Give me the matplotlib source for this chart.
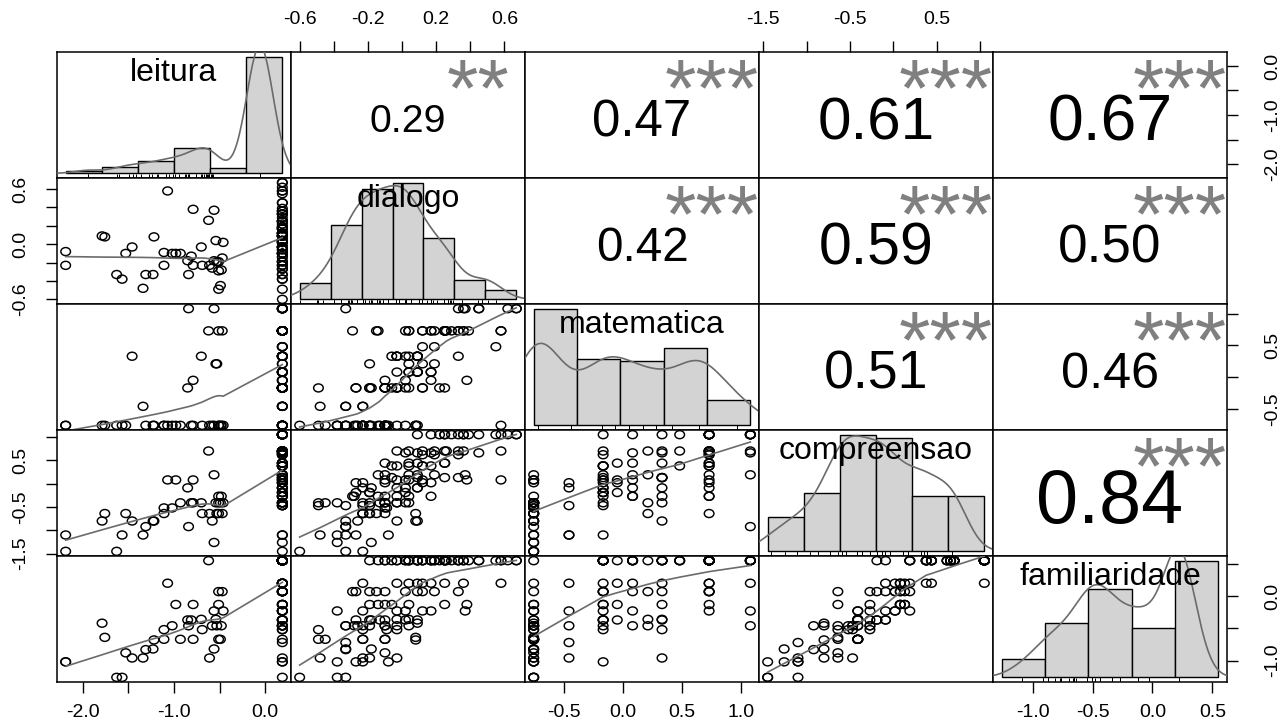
"""
Correlation matrix chart (pairs-style): scatter + lowess below the diagonal,
histogram + density on the diagonal, correlation values above.
"""

import numpy as np
import matplotlib
matplotlib.use("Agg")
import matplotlib.pyplot as plt
from matplotlib.path import Path
from matplotlib.transforms import ScaledTranslation, blended_transform_factory

plt.rcParams['font.family'] = ['Liberation Sans', 'DejaVu Sans']

# ---------------------------------------------------------------------------
# Data (one entry per student)
# ---------------------------------------------------------------------------
NAMES = ['leitura', 'dialogo', 'matematica', 'compreensao', 'familiaridade']

# 39 students below the ceiling, then 87 students at the ceiling (0.19)
LEITURA = [-2.19, -2.19, -1.79, -1.76, -1.63, -1.57, -1.53, -1.46, -1.34, -1.31,
           -1.23, -1.22, -1.11, -1.11, -1.07, -1.02, -0.98, -0.93, -0.85, -0.84,
           -0.81, -0.79, -0.79, -0.70, -0.69, -0.62, -0.61, -0.56, -0.56, -0.54,
           -0.53, -0.51, -0.51, -0.51, -0.58, -0.49, -0.48, -0.47, -0.46] + [0.19] * 87

DIALOGO = [-0.08, -0.23, 0.09, 0.08, -0.33, -0.38, -0.10, -0.03, -0.48, -0.33,
           -0.33, 0.08, -0.09, -0.23, 0.58, -0.10, -0.10, -0.10, -0.18, -0.33,
           -0.13, 0.38, -0.23, -0.03, -0.23, 0.26, -0.23, 0.37, -0.18, 0.04,
           -0.19, -0.29, -0.49, -0.19, -0.26, -0.45, -0.28, -0.15, 0.02,
           -0.60, -0.38, -0.27, -0.19, -0.33, -0.10, -0.49, -0.03, -0.23, -0.10,
           -0.33, -0.03, 0.04, -0.27, -0.19, 0.09, -0.10, 0.02, -0.38, 0.12,
           -0.03, 0.17, -0.23, 0.04, -0.06, 0.25, -0.14, -0.19, 0.09, -0.27,
           0.12, 0.02, 0.33, -0.10, 0.19, -0.23, 0.04, 0.12, -0.03, 0.25,
           0.17, 0.09, 0.36, -0.19, 0.02, -0.10, 0.09, -0.14, 0.04, -0.03,
           0.12, 0.17, -0.06, 0.09, 0.25, 0.04, -0.10, 0.19, 0.12, 0.33,
           0.02, 0.45, 0.09, 0.17, -0.03, 0.25, 0.12, 0.36, 0.19, 0.58,
           0.33, 0.04, 0.25, 0.17, 0.39, 0.67, 0.29, 0.09, 0.36, 0.55,
           0.62, 0.25, 0.33, 0.45, 0.58, 0.67, 0.22]

MATEMATICA = [-0.76, -0.76, -0.76, -0.76, -0.76, -0.76, -0.76, 0.33, -0.46, -0.76,
              -0.76, -0.76, -0.76, -0.76, -0.76, -0.76, -0.76, -0.76, -0.17, 1.08,
              -0.76, -0.05, -0.76, 0.33, -0.76, 0.73, -0.76, 1.08, -0.76, 0.21,
              0.21, 0.73, -0.76, -0.76, -0.76, -0.76, -0.76, 0.73, -0.76,
              -0.76, -0.76, -0.17, -0.76, -0.46, -0.76, -0.17, 0.33, -0.76, -0.17,
              -0.46, -0.76, 0.08, -0.17, -0.76, 0.33, -0.17, -0.05, -0.76, 0.73,
              -0.17, 0.08, -0.46, -0.17, 0.33, -0.17, 0.73, -0.17, 0.08, -0.76,
              0.73, -0.17, 0.33, -0.17, 0.21, -0.46, 0.73, -0.17, 0.08, 0.73,
              -0.05, 0.33, 1.08, -0.17, 0.73, -0.17, 0.08, -0.76, 0.73, -0.17,
              0.48, 0.73, -0.17, 0.33, 0.73, 0.08, -0.05, 0.73, -0.17, 0.73,
              0.33, 1.08, 0.08, 0.73, -0.17, 0.73, 0.21, 0.73, 0.48, 0.73,
              1.08, 0.33, 0.73, 0.08, 0.73, 1.08, 0.73, 0.33, 0.73, 0.48,
              1.08, 0.73, 0.73, 1.08, 0.73, 1.08, -0.17]

COMPREENSAO = [-1.10, -1.45, -0.80, -0.64, -1.45, -1.10, -0.64, -0.80, -1.10, -0.92,
               -0.80, -0.80, -0.52, -0.64, 0.08, -0.52, 0.08, -0.41, -0.09, -0.92,
               -0.41, 0.08, -0.41, -0.41, -0.64, 0.70, -0.64, 0.19, -1.26, -0.41,
               -0.64, -0.27, -0.41, -0.64, -0.80, -0.41, -0.27, -0.64, -0.41,
               -1.45, -1.26, -1.10, -0.47, -1.10, -0.41, -0.47, -0.27,
               -0.47, -0.41, -0.47, -0.41, -0.27, -0.19, -0.41, -0.09, -0.27, -0.19,
               -0.41, 0.02, -0.09, -0.27, 0.02, 0.08, 0.13, 0.13, -0.27,
               -0.19, -0.09, 0.02, 0.08, 0.08, 0.13, 0.02, 0.19, -0.09, 0.19,
               0.38, 0.08, 0.44, 0.02, 0.13, 1.05,
               -0.19, -0.09, 0.19, 0.19, 0.19, 0.38, 0.38, 0.38, 0.38, 0.38,
               0.44, 0.44, 0.44, 0.44, 0.62, 0.62, 0.62, 0.66, 0.66, 0.66,
               0.66, 0.70, 0.70, 0.70, 0.70, 0.70, 0.70, 0.70, 0.70,
               1.05, 1.05, 1.05, 1.05, 1.05, 1.05, 1.05, 1.05, 1.05, 1.05,
               1.05, 1.05, 1.05, 1.05, 1.05]

FAMILIARIDADE = [-1.02, -1.02, -0.42, -0.64, -1.26, -1.26, -0.88, -0.96, -0.96, -0.83,
                 -0.82, -0.68, -0.52, -0.67, 0.20, -0.46, -0.13, -0.67, -0.37, -0.46,
                 -0.37, -0.13, -0.67, -0.36, -0.52, 0.55, -0.96, -0.23, -0.82, -0.36,
                 -0.46, 0.07, -0.67, -0.13, -0.46, -0.67, -0.46, 0.07, -0.23,
                 -1.26, -1.02, -1.02, -0.96, -0.72, -0.67, -0.52, -0.52, -0.46, -0.46,
                 -0.46, -0.46, -0.46, -0.37, -0.37, -0.37, -0.37, -0.37, -0.23, -0.23,
                 -0.23, -0.23, -0.23, -0.13, -0.13, -0.13, -0.13, 0.07, 0.07, 0.07,
                 0.07, 0.07, 0.07, 0.07, 0.07, 0.20, 0.20, 0.20, 0.20, 0.20,
                 0.20, 0.20, 0.20] + [0.55] * 44

# histogram breaks of the diagonal panels
BREAKS = {
    'leitura': [-2.5, -2.0, -1.5, -1.0, -0.5, 0.0, 0.5],
    'dialogo': [-0.6, -0.4, -0.2, 0.0, 0.2, 0.4, 0.6, 0.8],
    'matematica': [-0.8, -0.4, 0.0, 0.4, 0.8, 1.2],
    'compreensao': [-1.5, -1.0, -0.5, 0.0, 0.5, 1.0, 1.5],
    'familiaridade': [-1.5, -1.0, -0.5, 0.0, 0.5, 1.0],
}

# upper panels: (row, col), correlation printed, significance stars
COR_CELLS = [(0, 1), (0, 2), (0, 3), (0, 4), (1, 2), (1, 3), (1, 4), (2, 3), (2, 4), (3, 4)]
COR_VALUES = [0.29, 0.47, 0.61, 0.67, 0.42, 0.59, 0.50, 0.51, 0.46, 0.84]
COR_STARS = ['**', '***', '***', '***', '***', '***', '***', '***', '***', '***']

# outer axes: (row, col, side, variable, tick positions, tick labels)
AXES_TICKS = [
    (0, 1, 'top', 'dialogo', [-0.6, -0.4, -0.2, 0.0, 0.2, 0.4, 0.6],
     ['-0.6', '', '-0.2', '', '0.2', '', '0.6']),
    (0, 3, 'top', 'compreensao', [-1.5, -1.0, -0.5, 0.0, 0.5, 1.0],
     ['-1.5', '', '-0.5', '', '0.5', '']),
    (4, 0, 'bottom', 'leitura', [-2.0, -1.5, -1.0, -0.5, 0.0],
     ['-2.0', '', '-1.0', '', '0.0']),
    (4, 2, 'bottom', 'matematica', [-0.5, 0.0, 0.5, 1.0],
     ['-0.5', '0.0', '0.5', '1.0']),
    (4, 4, 'bottom', 'familiaridade', [-1.0, -0.5, 0.0, 0.5],
     ['-1.0', '-0.5', '0.0', '0.5']),
    (1, 0, 'left', 'dialogo', [-0.6, -0.4, -0.2, 0.0, 0.2, 0.4, 0.6],
     ['-0.6', '', '', '0.0', '', '', '0.6']),
    (3, 0, 'left', 'compreensao', [-1.5, -1.0, -0.5, 0.0, 0.5, 1.0],
     ['-1.5', '', '-0.5', '', '0.5', '']),
    (0, 4, 'right', 'leitura', [-2.0, -1.5, -1.0, -0.5, 0.0],
     ['-2.0', '', '-1.0', '', '0.0']),
    (2, 4, 'right', 'matematica', [-0.5, 0.0, 0.5, 1.0],
     ['-0.5', '', '0.5', '']),
    (4, 4, 'right', 'familiaridade', [-1.0, -0.5, 0.0, 0.5],
     ['-1.0', '', '0.0', '']),
]

DATA = dict(zip(NAMES, [np.array(v, dtype=float) for v in
                        (LEITURA, DIALOGO, MATEMATICA, COMPREENSAO, FAMILIARIDADE)]))

# ---------------------------------------------------------------------------
# Layout / style
# ---------------------------------------------------------------------------
W, H = 1288, 727
X_EDGES = [57, 291, 525, 759, 993, 1227]
Y_EDGES = [52, 178, 304, 430, 556, 682]

LINE_GRAY = '0.42'
STAR_GRAY = '0.5'
BAR_FILL = '#D3D3D3'
TICK_FS = 14
NAME_FS = 23
COR_FS = 62.0
STAR_FS = 58


def padded(v, frac=0.04):
    lo, hi = float(np.min(v)), float(np.max(v))
    d = (hi - lo) * frac
    return lo - d, hi + d


def lowess(x, y, f=2 / 3, iters=3):
    order = np.argsort(x, kind='mergesort')
    x, y = x[order], y[order]
    n = len(x)
    r = max(min(int(round(f * n)), n), 2)
    robust = np.ones(n)
    fit = np.zeros(n)
    for it in range(iters + 1):
        for i in range(n):
            dist = np.abs(x - x[i])
            h = np.sort(dist)[r - 1]
            if h <= 0:
                w = (dist <= 0).astype(float)
            else:
                u = np.clip(dist / h, 0, 1)
                w = (1 - u ** 3) ** 3
                w[dist <= 0.001 * h] = 1.0
                w[dist > 0.999 * h] = 0.0
            w = w * robust
            sw = w.sum()
            if sw <= 0:
                fit[i] = y[i]
                continue
            xm = (w * x).sum() / sw
            ym = (w * y).sum() / sw
            den = (w * (x - xm) ** 2).sum()
            slope = (w * (x - xm) * (y - ym)).sum() / den if den > 1e-12 else 0.0
            fit[i] = ym + slope * (x[i] - xm)
        if it == iters:
            break
        res = y - fit
        cmad = 6 * np.median(np.abs(res))
        if cmad < 1e-7:
            break
        u = np.abs(res) / cmad
        robust = np.where(u < 1, (1 - u ** 2) ** 2, 0.0)
    return x, fit


def density(x, n=512):
    sd = x.std(ddof=1)
    q75, q25 = np.percentile(x, [75, 25])
    lo = min(sd, (q75 - q25) / 1.34)
    if lo <= 0:
        lo = sd
    bw = 0.9 * lo * len(x) ** -0.2
    grid = np.linspace(x.min() - 3 * bw, x.max() + 3 * bw, n)
    z = (grid[:, None] - x[None, :]) / bw
    dens = np.exp(-0.5 * z ** 2).sum(axis=1) / (len(x) * bw * np.sqrt(2 * np.pi))
    return grid, dens


def hist_density(x, breaks):
    # right-closed bins, lowest included (like R's hist)
    b = np.asarray(breaks)
    counts = np.histogram(-x, bins=-b[::-1])[0][::-1]
    return counts / (len(x) * np.diff(b))


circ = Path.unit_circle()
OPEN_CIRCLE = Path(circ.vertices * np.array([1.2, 1.0]), circ.codes)

fig = plt.figure(figsize=(W / 100, H / 100), dpi=100)
axes = [[None] * 5 for _ in range(5)]

for i in range(5):
    for j in range(5):
        rect = [X_EDGES[j] / W, 1 - Y_EDGES[i + 1] / H,
                (X_EDGES[j + 1] - X_EDGES[j]) / W, (Y_EDGES[i + 1] - Y_EDGES[i]) / H]
        ax = fig.add_axes(rect)
        axes[i][j] = ax
        xv, yv = DATA[NAMES[j]], DATA[NAMES[i]]
        ax.set_xlim(*padded(xv))
        ax.set_ylim(*padded(yv))
        ax.set_xticks([])
        ax.set_yticks([])
        for s in ax.spines.values():
            s.set_linewidth(1.1)

        if i > j:
            # scatter + lowess
            ax.scatter(xv, yv, s=48, marker=OPEN_CIRCLE, facecolors='none',
                       edgecolors='black', linewidths=1.05, zorder=2)
            lx, ly = lowess(xv, yv)
            ax.plot(lx, ly, color=LINE_GRAY, lw=1.2, zorder=3)
        elif i == j:
            name = NAMES[i]
            br = BREAKS[name]
            hd = hist_density(xv, br)
            hax = fig.add_axes(rect)
            hax.set_axis_off()
            hax.set_xlim(*padded(br))
            m = hd.max()
            hax.set_ylim(-0.04 * m, 1.04 * m)
            hax.bar(br[:-1], hd, width=np.diff(br), align='edge', color=BAR_FILL,
                    edgecolor='black', linewidth=1.0, zorder=1)
            gx, gy = density(xv)
            hax.plot(gx, gy, color=LINE_GRAY, lw=1.2, zorder=2)
            rug_tr = blended_transform_factory(hax.transData, hax.transAxes)
            hax.vlines(xv, 0, 0.03, transform=rug_tr, color='black', lw=0.7, zorder=2)
            hax.text(0.5, 0.833, name, transform=hax.transAxes, ha='center',
                     va='center', fontsize=NAME_FS, zorder=5)

# correlation values and stars
for (i, j), r, st in zip(COR_CELLS, COR_VALUES, COR_STARS):
    ax = axes[i][j]
    fs = COR_FS * (abs(r) + 0.3) / 1.3
    off = ScaledTranslation(0, (-0.358 * fs - 2) / 72, fig.dpi_scale_trans)
    ax.text(0.5, 0.5, f'{r:.2f}', transform=ax.transAxes + off, ha='center',
            va='baseline', fontsize=fs)
    off2 = ScaledTranslation(0, -0.47 * STAR_FS / 72, fig.dpi_scale_trans)
    ax.text(0.8, 0.8, st, transform=ax.transAxes + off2, ha='center',
            va='baseline', fontsize=STAR_FS, color=STAR_GRAY, clip_on=True)

# outer axes
PADS = {'top': 9, 'bottom': 8, 'left': 12, 'right': 19}
for i, j, side, var, pos, labs in AXES_TICKS:
    ax = axes[i][j]
    if side in ('top', 'bottom'):
        ax.set_xticks(pos)
        ax.set_xticklabels(labs)
        ax.tick_params(axis='x', bottom=(side == 'bottom'), top=(side == 'top'),
                       labelbottom=(side == 'bottom'), labeltop=(side == 'top'),
                       direction='out', length=8, width=1.0, labelsize=TICK_FS,
                       pad=PADS[side])
    else:
        ax.set_yticks(pos)
        ax.set_yticklabels(labs)
        ax.tick_params(axis='y', left=(side == 'left'), right=(side == 'right'),
                       labelleft=(side == 'left'), labelright=(side == 'right'),
                       direction='out', length=8, width=1.0, labelsize=TICK_FS,
                       pad=PADS[side], labelrotation=90)
        for lab in ax.get_yticklabels():
            lab.set_verticalalignment('center')

fig.savefig('out.png', dpi=100)
